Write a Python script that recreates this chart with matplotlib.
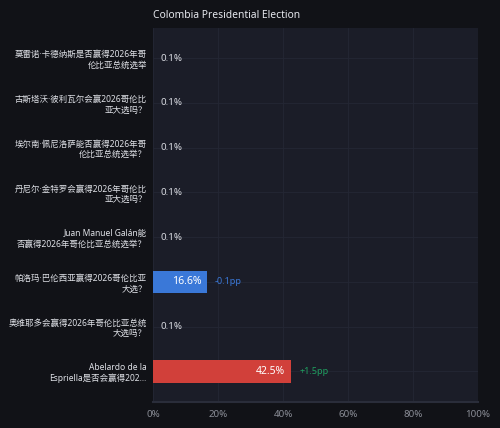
import matplotlib.pyplot as plt
import numpy as np

plt.rcParams['font.family'] = ['Noto Sans', 'Noto Sans CJK SC', 'DejaVu Sans']

labels = [
    '莫雷诺·卡德纳斯是否赢得2026年哥\n伦比亚总统选举',
    '古斯塔沃·彼利瓦尔会赢2026哥伦比\n亚大选吗？',
    '埃尔南·佩尼洛萨能否赢得2026年哥\n伦比亚总统选举？',
    '丹尼尔·金特罗会赢得2026年哥伦比\n亚大选吗？',
    'Juan Manuel Galán能\n否赢得2026年哥伦比亚总统选举？',
    '帕洛玛·巴伦西亚赢得2026哥伦比亚\n大选？',
    '奥维耶多会赢得2026年哥伦比亚总统\n大选吗？',
    'Abelardo de la\nEspriella是否会赢得202…',
]
values = [0.1, 0.1, 0.1, 0.1, 0.1, 16.6, 0.1, 42.5]
deltas = [None, None, None, None, None, -0.1, None, 1.5]
bar_colors = ['#5c606b'] * 5 + ['#3a78d8', '#5c606b', '#d1403a']
xticks = [0, 20, 40, 60, 80, 100]

fig = plt.figure(figsize=(5, 4.28), dpi=100, facecolor='#111217')
ax = fig.add_axes([0.306, 0.061, 0.65, 0.874])
ax.set_facecolor('#1b1d28')

y = np.arange(len(labels))
ax.barh(y, values, height=0.5, color=bar_colors, zorder=3)

for i, (v, d) in enumerate(zip(values, deltas)):
    if v > 5:
        ax.text(v - 1.8, i, f'{v}%', ha='right', va='center', color='white', fontsize=7.5, zorder=4)
        end = v
    else:
        ax.text(2.2, i, f'{v}%', ha='left', va='center', color='#d8dae0', fontsize=7, zorder=4)
        end = None
    if d is not None:
        col = '#1fa060' if d > 0 else '#3a78d8'
        ax.text(end + 2.5, i, f'{d:+.1f}pp', ha='left', va='center', color=col, fontsize=6.5, zorder=4)

ax.set_xlim(0, 100)
ax.set_ylim(len(labels) - 0.32, -0.68)
ax.set_yticks(y)
ax.set_yticklabels(labels, fontsize=6.1, color='#e0e2e8', linespacing=1.2)
ax.set_xticks(xticks)
ax.set_xticklabels([f'{t}%' for t in xticks], fontsize=7, color='#8a8d96')
ax.tick_params(axis='y', length=0, pad=4.5)
ax.tick_params(axis='x', length=0, pad=6)
ax.grid(True, color='#242734', linewidth=0.6, zorder=0)
for s in ['top', 'right', 'left']:
    ax.spines[s].set_visible(False)
ax.spines['bottom'].set_color('#2a2d3a')
ax.spines['bottom'].set_linewidth(1.5)

fig.text(0.306, 0.963, 'Colombia Presidential Election', fontsize=7.4, color='#e6e8ee', ha='left', va='center')

fig.savefig('out.png', dpi=100, facecolor=fig.get_facecolor())
